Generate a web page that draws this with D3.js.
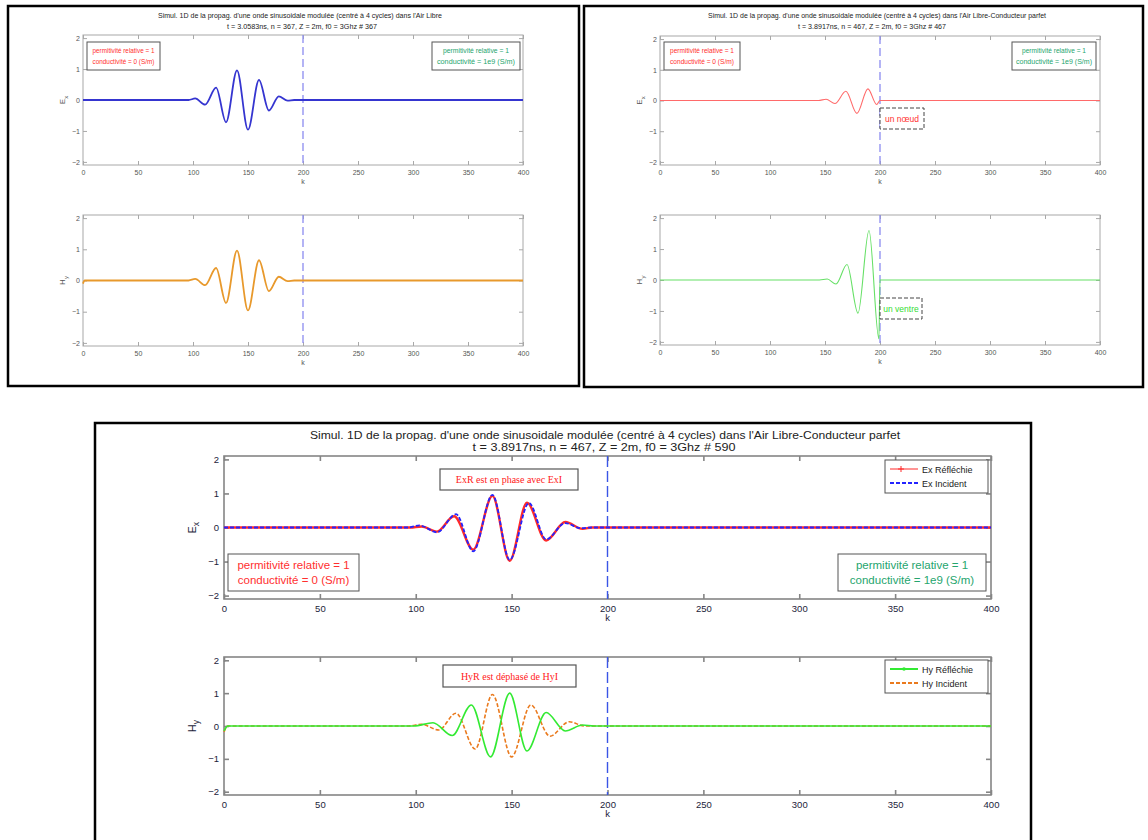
<!DOCTYPE html>
<html>
<head>
<meta charset="utf-8">
<script src="https://cdn.jsdelivr.net/npm/d3@7"></script>
<style>
  body { margin: 0; background: #fff; }
  text { font-family: "Liberation Sans", Arial, sans-serif; }
</style>
</head>
<body>
<svg id="fig" width="1148" height="840"></svg>
<script>
// ---- axis ticks ----
const kTicks = [0, 50, 100, 150, 200, 250, 300, 350, 400];
const fieldTicks = [-2, -1, 0, 1, 2];
const kDomain = [0, 400];
const fieldDomain = [-2.1, 2.1];
const interfaceK = 200;

// ---- field samples [k, value] ----
// Air libre, n = 367
const exLibre = [[0,0],[96,0],[102,0.05],[111,-0.15],[121,0.4],[130,-0.72],[140,0.96],[150,-0.96],[160,0.65],[169,-0.34],[178,0.12],[186,-0.02],[192,0],[400,0]];
const hyLibre = [[0,-0.1],[1.5,0],[96,0],[102,0.05],[111,-0.15],[121,0.4],[130,-0.72],[140,0.96],[150,-0.96],[160,0.65],[169,-0.34],[178,0.12],[186,-0.02],[192,0],[400,0]];
// Air libre - conducteur parfait, n = 467
const exPec = [[0,0],[144,0],[151,0.04],[159,-0.1],[169,0.3],[179,-0.42],[189,0.38],[197,-0.13],[200,0],[400,0]];
const hyPec = [[0,0],[145,0],[152,0.03],[160,-0.13],[170,0.5],[180,-1.07],[190,1.6],[199,-1.9],[200,0],[400,0]];
// reflected vs incident, # 590
const exReflechie = [[0,0],[97,0],[103,0.03],[111,-0.12],[120,0.33],[130,-0.65],[140,0.93],[149,-0.98],[158,0.73],[168,-0.38],[178,0.16],[187,-0.04],[192,0],[400,0]];
const exIncident = [[0,0],[96,0],[102,0.06],[111,-0.14],[121,0.39],[130,-0.7],[140,0.96],[149,-0.95],[159,0.72],[168,-0.35],[178,0.13],[186,-0.02],[192,0],[400,0]];
const hyReflechie = [[0,-0.15],[2,0],[99,0],[109,0.1],[119,-0.29],[129,0.64],[139,-0.94],[149,1.0],[158,-0.76],[168,0.41],[178,-0.15],[187,0.03],[193,0],[400,0]];
const hyIncident = [[0,-0.18],[2,0],[96,0],[103,0.05],[112,-0.12],[121,0.39],[131,-0.7],[140,0.96],[150,-0.94],[160,0.64],[170,-0.31],[180,0.13],[188,0],[400,0]];

// ---- texts ----
const titleLibre = ["Simul. 1D de la propag. d'une onde sinusoidale modulée (centré à 4 cycles) dans l'Air Libre",
                    "t = 3.0583ns, n = 367, Z = 2m, f0 = 3Ghz #  367"];
const titlePec = ["Simul. 1D de la propag. d'une onde sinusoidale modulée (centré à 4 cycles) dans l'Air Libre-Conducteur parfet",
                  "t = 3.8917ns, n = 467, Z = 2m, f0 = 3Ghz #  467"];
const titleCompare = ["Simul. 1D de la propag. d'une onde sinusoidale modulée (centré à 4 cycles) dans l'Air Libre-Conducteur parfet",
                      "t = 3.8917ns, n = 467, Z = 2m, f0 = 3Ghz #  590"];
const mediumAir = ["permitivité relative = 1", "conductivité = 0 (S/m)"];
const mediumPec = ["permitivité relative = 1", "conductivité = 1e9 (S/m)"];

const RED_TXT = "#ff2f2f", TEAL_TXT = "#25a56e";

const svg = d3.select("#fig");

// outer black frames
[[8, 6, 571, 380], [584, 6, 559, 381], [95, 423, 936, 430]].forEach(([x, y, w, h]) => {
  svg.append("rect").attr("x", x).attr("y", y).attr("width", w).attr("height", h)
    .attr("fill", "none").attr("stroke", "#000").attr("stroke-width", 2.5);
});

// MATLAB-like boxed axes, ticks inside on all four sides
function makeAxes(box, st) {
  const x = d3.scaleLinear().domain(kDomain).range([box.x0, box.x1]);
  const y = d3.scaleLinear().domain(fieldDomain).range([box.y1, box.y0]);
  const g = svg.append("g");
  g.append("rect").attr("x", box.x0).attr("y", box.y0)
    .attr("width", box.x1 - box.x0).attr("height", box.y1 - box.y0)
    .attr("fill", "#fff").attr("stroke", st.frame).attr("stroke-width", st.frameW);

  const styleAxis = (sel, showLabels) => {
    sel.select(".domain").remove();
    sel.selectAll(".tick line").attr("stroke", st.frame).attr("stroke-width", st.frameW);
    sel.selectAll(".tick text").attr("fill", showLabels ? st.label : "none")
      .style("font-size", st.tickFont + "px");
  };
  g.append("g").attr("transform", `translate(0,${box.y1})`)
    .call(d3.axisBottom(x).tickValues(kTicks).tickSizeInner(-st.tick).tickSizeOuter(0).tickPadding(st.padX).tickFormat(d3.format("d")))
    .call(s => styleAxis(s, true));
  g.append("g").attr("transform", `translate(0,${box.y0})`)
    .call(d3.axisTop(x).tickValues(kTicks).tickSizeInner(-st.tick).tickSizeOuter(0).tickFormat(""))
    .call(s => styleAxis(s, false));
  g.append("g").attr("transform", `translate(${box.x0},0)`)
    .call(d3.axisLeft(y).tickValues(fieldTicks).tickSizeInner(-st.tick).tickSizeOuter(0).tickPadding(st.padY).tickFormat(d3.format("d")))
    .call(s => styleAxis(s, true));
  g.append("g").attr("transform", `translate(${box.x1},0)`)
    .call(d3.axisRight(y).tickValues(fieldTicks).tickSizeInner(-st.tick).tickSizeOuter(0).tickFormat(""))
    .call(s => styleAxis(s, false));

  // x label
  g.append("text").attr("x", (box.x0 + box.x1) / 2).attr("y", box.y1 + st.kOff)
    .attr("text-anchor", "middle").attr("fill", st.label).style("font-size", st.tickFont + "px").text("k");
  // y label with subscript
  const yl = g.append("text")
    .attr("transform", `translate(${box.x0 - st.yLabOff},${(box.y0 + box.y1) / 2}) rotate(-90)`)
    .attr("text-anchor", "middle").attr("fill", st.label).style("font-size", (st.tickFont + 1) + "px");
  yl.append("tspan").text(box.field[0]);
  yl.append("tspan").attr("dy", 3).style("font-size", (st.tickFont - 1) + "px").text(box.field[1]);

  // interface at k = 200
  g.append("line").attr("x1", x(interfaceK)).attr("x2", x(interfaceK))
    .attr("y1", box.y0).attr("y2", box.y1)
    .attr("stroke", st.iface).attr("stroke-width", st.ifaceW).attr("stroke-dasharray", st.ifaceDash);
  return { g, x, y };
}

function drawCurve(ax, data, color, width, dash) {
  const line = d3.line().x(d => ax.x(d[0])).y(d => ax.y(d[1])).curve(d3.curveMonotoneX);
  ax.g.append("path").datum(data).attr("d", line).attr("fill", "none")
    .attr("stroke", color).attr("stroke-width", width)
    .attr("stroke-dasharray", dash || null).attr("stroke-linejoin", "round");
}

function infoBox(x0, y0, w, h, lines, color, font, textLen) {
  const g = svg.append("g");
  g.append("rect").attr("x", x0).attr("y", y0).attr("width", w).attr("height", h)
    .attr("fill", "#fff").attr("stroke", "#555").attr("stroke-width", 1);
  lines.forEach((t, i) => {
    const tx = g.append("text").attr("x", x0 + w / 2).attr("y", y0 + h * (i === 0 ? 0.4 : 0.8))
      .attr("text-anchor", "middle").attr("fill", color).style("font-size", font + "px").text(t);
    if (textLen) tx.attr("textLength", textLen[i]).attr("lengthAdjust", "spacingAndGlyphs");
  });
}

function title(cx, ys, lines, font, lens) {
  lines.forEach((t, i) => {
    const tx = svg.append("text").attr("x", cx[i]).attr("y", ys[i]).attr("text-anchor", "middle")
      .attr("fill", "#222").style("font-size", font + "px").text(t);
    if (lens) tx.attr("textLength", lens[i]).attr("lengthAdjust", "spacingAndGlyphs");
  });
}

const smallStyle = { frame: "#a8a8a8", frameW: 1, label: "#555", tickFont: 7, tick: 4, padX: 5, padY: 3,
                     kOff: 19, yLabOff: 18, iface: "#8c8cf0", ifaceW: 1.3, ifaceDash: "8,4" };
const bigStyle = { frame: "#858585", frameW: 1.6, label: "#1c1c3a", tickFont: 9.5, tick: 5, padX: 6, padY: 5,
                   kOff: 22, yLabOff: 28, iface: "#3a55e6", ifaceW: 1.4, ifaceDash: "11,4" };

// ===== top-left: free space =====
title([300, 302], [18, 29], titleLibre, 8, [284, 150]);
const tlE = makeAxes({ x0: 83, x1: 523, y0: 35, y1: 165, field: ["E", "x"] }, smallStyle);
drawCurve(tlE, exLibre, "#3535d0", 1.8);
infoBox(87, 42, 73, 28, mediumAir, RED_TXT, 7.5, [62, 62]);
infoBox(432, 42, 88, 28, mediumPec, TEAL_TXT, 7.5, [66, 78]);
const tlH = makeAxes({ x0: 83, x1: 523, y0: 215, y1: 346, field: ["H", "y"] }, smallStyle);
drawCurve(tlH, hyLibre, "#e8992c", 1.8);

// ===== top-right: free space / perfect conductor =====
title([877, 872], [18, 29], titlePec, 8, [338, 148]);
const trE = makeAxes({ x0: 660, x1: 1100, y0: 36, y1: 165, field: ["E", "x"] }, smallStyle);
drawCurve(trE, exPec, "#ff6a6a", 1.1);
infoBox(664, 42, 76, 28, mediumAir, RED_TXT, 7.5, [64, 64]);
infoBox(1012, 42, 84, 28, mediumPec, TEAL_TXT, 7.5, [64, 76]);
const trH = makeAxes({ x0: 660, x1: 1100, y0: 215, y1: 345, field: ["H", "y"] }, smallStyle);
drawCurve(trH, hyPec, "#66e066", 1.1);

function dashedNote(x0, y0, w, h, label, color) {
  svg.append("rect").attr("x", x0).attr("y", y0).attr("width", w).attr("height", h)
    .attr("fill", "#fff").attr("stroke", "#444").attr("stroke-width", 1).attr("stroke-dasharray", "4,2");
  svg.append("text").attr("x", x0 + w / 2).attr("y", y0 + h / 2 + 3).attr("text-anchor", "middle")
    .attr("fill", color).style("font-size", "8.5px").text(label);
}
dashedNote(880, 108, 44, 21, "un nœud", "#ff3030");
dashedNote(880, 298, 42, 21, "un ventre", "#33dd33");

// ===== bottom: reflected vs incident =====
title([605, 604], [439, 451], titleCompare, 11, [590, 263]);
const bE = makeAxes({ x0: 224, x1: 991, y0: 456, y1: 599, field: ["E", "x"] }, bigStyle);
drawCurve(bE, exReflechie, "#ff2a2a", 2.4);
drawCurve(bE, exIncident, "#2424ff", 1.8, "4,2");
infoBox(228, 554, 131, 37, mediumAir, RED_TXT, 11.5);
infoBox(838, 554, 148, 37, mediumPec, TEAL_TXT, 11.5);

const bH = makeAxes({ x0: 224, x1: 991, y0: 657, y1: 795, field: ["H", "y"] }, bigStyle);
drawCurve(bH, hyIncident, "#ea7a1e", 1.6, "4,2");
drawCurve(bH, hyReflechie, "#33ea33", 1.6);

function serifNote(x0, y0, w, h, label) {
  svg.append("rect").attr("x", x0).attr("y", y0).attr("width", w).attr("height", h)
    .attr("fill", "#fff").attr("stroke", "#555").attr("stroke-width", 1.2);
  svg.append("text").attr("x", x0 + w / 2).attr("y", y0 + h / 2 + 3.5).attr("text-anchor", "middle")
    .attr("fill", "#ff2020").style("font-family", "'Liberation Serif', 'Times New Roman', serif")
    .style("font-size", "10px").text(label);
}
serifNote(440, 469, 138, 21, "ExR est en phase avec ExI");
serifNote(443, 665, 133, 22, "HyR est déphasé de HyI");

function legend(x0, y0, entries) {
  const g = svg.append("g");
  g.append("rect").attr("x", x0).attr("y", y0).attr("width", 103).attr("height", 33)
    .attr("fill", "#fff").attr("stroke", "#555").attr("stroke-width", 1);
  entries.forEach((e, i) => {
    const yy = y0 + 9 + i * 14;
    g.append("line").attr("x1", x0 + 5).attr("x2", x0 + 33).attr("y1", yy).attr("y2", yy)
      .attr("stroke", e.color).attr("stroke-width", e.w).attr("stroke-dasharray", e.dash || null);
    if (e.marker === "+") {
      g.append("path").attr("d", `M${x0 + 16},${yy - 3}V${yy + 3}M${x0 + 13},${yy}H${x0 + 19}`)
        .attr("stroke", e.color).attr("stroke-width", 1);
    } else if (e.marker === ".") {
      g.append("circle").attr("cx", x0 + 19).attr("cy", yy).attr("r", 1.8).attr("fill", e.color);
    }
    g.append("text").attr("x", x0 + 37).attr("y", yy + 3.5).attr("fill", "#222")
      .style("font-size", "9px").text(e.label);
  });
}
legend(885, 460, [
  { label: "Ex Réfléchie", color: "#ff2a2a", w: 1, marker: "+" },
  { label: "Ex Incident", color: "#2424ff", w: 2, dash: "4,2" }
]);
legend(885, 660, [
  { label: "Hy Réfléchie", color: "#33ea33", w: 2, marker: "." },
  { label: "Hy Incident", color: "#ea7a1e", w: 2, dash: "4,2" }
]);
</script>
</body>
</html>
